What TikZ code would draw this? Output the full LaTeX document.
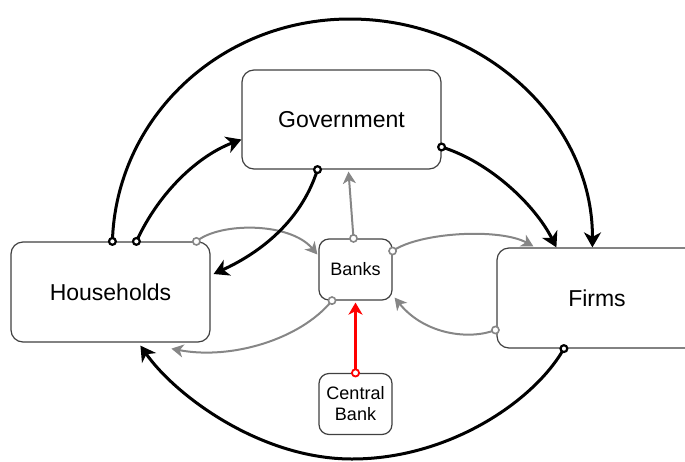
\documentclass[tikz,border=0pt]{standalone}
\usepackage{fontspec}
\setmainfont{Liberation Sans}
\usetikzlibrary{arrows.meta,calc}
\definecolor{flowgray}{HTML}{868686}
\definecolor{boxline}{HTML}{404040}
\begin{document}
\begin{tikzpicture}[x=1pt,y=-1pt,
  box/.style={draw=boxline, line width=1.2pt, fill=white, align=center, inner sep=0pt},
  bigtxt/.style={font=\fontsize{23}{27}\selectfont},
  smalltxt/.style={font=\fontsize{18}{21}\selectfont},
  flowk/.style={draw=black, line width=3pt, -{Stealth[length=15pt,width=17pt,inset=4.5pt]}},
  flowg/.style={draw=flowgray, line width=2pt, -{Stealth[length=12pt,width=13pt,inset=3.5pt]}},
  flowr/.style={draw=red, line width=2.3pt, -{Stealth[length=12pt,width=14pt,inset=3.5pt]}},
  dotk/.style={draw=black, line width=2.2pt, fill=white},
  dotg/.style={draw=flowgray, line width=1.6pt, fill=white},
  dotr/.style={draw=red, line width=1.8pt, fill=white},
]
\useasboundingbox (0,0) rectangle (685,461);
\clip (0,0) rectangle (685,461);

% sectors
\node[box, bigtxt, rounded corners=12pt, minimum width=199pt, minimum height=99pt] (gov) at (341.5,119.5) {Government};
\node[box, bigtxt, rounded corners=12pt, minimum width=199pt, minimum height=100pt] (hh) at (110.5,292) {Households};
\node[box, bigtxt, rounded corners=12pt, minimum width=200pt, minimum height=100pt] (firms) at (597,298) {Firms};
\node[box, smalltxt, rounded corners=10pt, minimum width=73pt, minimum height=61pt] (banks) at (355.5,269.5) {Banks};
\node[box, smalltxt, rounded corners=10pt, minimum width=73pt, minimum height=61pt] (cb) at (355.5,404) {Central\\Bank};

% connector start points
\coordinate (s1) at ($(hh.north west)+(102,0)$);
\coordinate (s2) at ($(hh.north west)+(126,0)$);
\coordinate (s3) at ($(gov.south)+(-24,0)$);
\coordinate (s4) at ($(gov.east)+(0,27.5)$);
\coordinate (s5) at ($(firms.south west)+(67.5,0)$);
\coordinate (s6) at ($(hh.north west)+(186,0)$);
\coordinate (s7) at ($(banks.north)+(-2,0)$);
\coordinate (s8) at ($(banks.east)+(0,-18.5)$);
\coordinate (s9) at ($(firms.west)+(-1,32)$);
\coordinate (s10) at ($(banks.south)+(-23.5,0)$);
\coordinate (s11) at (cb.north);

% grey flows through the banks
\draw[flowg] (s6) .. controls (220,222) and (290,222) .. ($(banks.west)+(-1,-15)$);
\draw[flowg] (s7) -- ($(gov.south)+(7,2)$);
\draw[flowg] (s8) .. controls (420,232) and (500,228) .. ($(firms.north west)+(37,-1)$);
\draw[flowg] (s9) .. controls (470,340) and (425,335) .. ($(banks.south east)+(2,-3)$);
\draw[flowg] (s10) .. controls (300,340) and (230,360) .. ($(hh.south west)+(161,6)$);

% central bank
\draw[flowr] (s11) -- ($(banks.south)+(0,2)$);

% black flows
\draw[flowk] (s1) .. controls (116,119) and (219,19) .. (350,19)
                  .. controls (484,19) and (593,122) .. ($(firms.north west)+(96,0)$);
\draw[flowk] (s2) .. controls (160,190) and (200,155) .. ($(gov.west)+(0,20)$);
\draw[flowk] (s3) .. controls (300,225) and (255,255) .. ($(hh.east)+(3,-18)$);
\draw[flowk] (s4) .. controls (490,162) and (535,205) .. ($(firms.north west)+(60,0)$);
\draw[flowk] (s5) .. controls (535,400) and (450,459) .. (352,459)
                  .. controls (260,459) and (175,395) .. ($(hh.south west)+(130,3)$);

% start markers
\foreach \p in {s1,s2,s3,s4,s5} \draw[dotk] (\p) circle[radius=3.4];
\foreach \p in {s6,s7,s8,s9,s10} \draw[dotg] (\p) circle[radius=3.6];
\draw[dotr] (s11) circle[radius=3.6];
\end{tikzpicture}
\end{document}
